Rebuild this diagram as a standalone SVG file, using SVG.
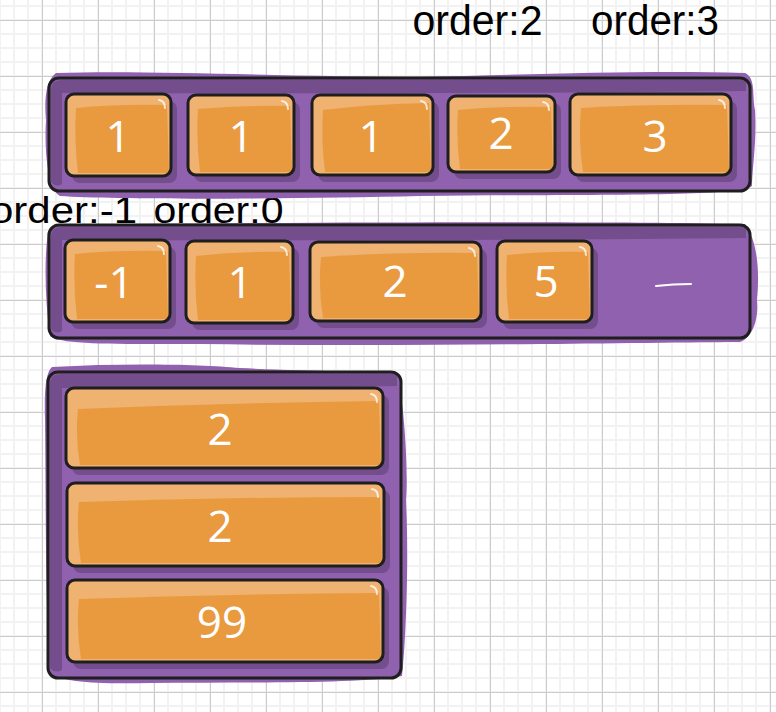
<svg xmlns="http://www.w3.org/2000/svg" width="776" height="712" viewBox="0 0 776 712">
<style>
.smear{fill:#9061ae}
.cfill{fill:#9061ae}
.dark{fill:#744e8c}
.sh{fill:#744e8c}
.hl{fill:#efb270}
.or{fill:#e99a3e}
.gl{fill:none;stroke:#ffffff;stroke-width:2;stroke-linecap:round;opacity:0.75}
.ol{fill:none;stroke:#1e1e1e;stroke-width:3;stroke-linejoin:round}
.col{fill:none;stroke:#1e1e1e;stroke-width:3}
.num{font-family:"Open Sans","Noto Sans",sans-serif;font-size:44px;fill:#ffffff;text-anchor:middle;font-weight:400}
.lbl{font-family:"Liberation Sans",Arial,sans-serif;fill:#000000}
</style>
<defs>
<pattern id="minor" patternUnits="userSpaceOnUse" x="-1" y="5" width="14" height="14">
<rect x="0" y="0" width="2" height="14" fill="#f2f2f2"/>
<rect x="0" y="0" width="14" height="2" fill="#f2f2f2"/>
</pattern>
<pattern id="major" patternUnits="userSpaceOnUse" x="42" y="20" width="56" height="56">
<path d="M0.5 0V56M0 0.5H56" stroke="#cccccc" stroke-width="1" fill="none"/>
</pattern>
</defs>
<rect width="776" height="712" fill="#ffffff"/>
<rect width="776" height="712" fill="url(#minor)"/>
<rect width="776" height="712" fill="url(#major)"/>

<g id="labels">
<text class="lbl" x="412.5" y="35" font-size="42" textLength="130" lengthAdjust="spacingAndGlyphs">order:2</text>
<text class="lbl" x="591" y="35" font-size="42" textLength="128" lengthAdjust="spacingAndGlyphs">order:3</text>
<text class="lbl" x="-10" y="223" font-size="36" textLength="147" lengthAdjust="spacingAndGlyphs">order:-1</text>
<text class="lbl" x="153.5" y="223" font-size="36" textLength="130" lengthAdjust="spacingAndGlyphs">order:0</text>
</g>

<g id="row1">
<path class="smear" d="M56 73C150 70 300 77 420 77C550 74 650 70 745 73C756 78 752 95 755 110C757 140 752 170 752 186C740 197 600 194 420 196C300 199 120 200 60 196C48 190 44 150 46 120C44 100 46 80 56 73Z"/>
<rect class="cfill" x="49" y="78" width="701" height="113" rx="10"/>
<path class="dark" d="M51 90Q51 80 61 80L746 80L746 91Q500 94 62 93L62 184Q56 188 51 182Z"/>
<rect class="col" x="49" y="78" width="701" height="113" rx="10"/>
</g>
<g id="r1a">
<rect class="sh" x="72" y="101" width="105" height="82" rx="8"/>
<rect class="hl" x="66" y="94" width="105" height="82" rx="8"/>
<path class="or" d="M76 108Q118 104 167 105L169 173L78 173Q74 140 76 108Z"/>
<path class="gl" d="M159 100Q165 101 165 108"/>
<rect class="ol" x="66" y="94" width="105" height="82" rx="8"/>
<text class="num" x="118" y="152">1</text>
</g>
<g id="r1b">
<rect class="sh" x="194" y="102" width="106" height="80" rx="8"/>
<rect class="hl" x="188" y="95" width="106" height="80" rx="8"/>
<path class="or" d="M198 109Q241 105 290 106L292 172L200 172Q196 140 198 109Z"/>
<path class="gl" d="M282 101Q288 102 288 109"/>
<rect class="ol" x="188" y="95" width="106" height="80" rx="8"/>
<text class="num" x="241" y="152">1</text>
</g>
<g id="r1c">
<rect class="sh" x="318" y="102" width="121" height="80" rx="8"/>
<rect class="hl" x="312" y="95" width="121" height="80" rx="8"/>
<path class="or" d="M323 110Q372 104 429 103L431 172L325 172Q321 140 323 110Z"/>
<path class="gl" d="M421 101Q427 102 427 109"/>
<rect class="ol" x="312" y="95" width="121" height="80" rx="8"/>
<text class="num" x="371" y="152">1</text>
</g>
<g id="r1d">
<rect class="sh" x="454" y="103" width="107" height="76" rx="8"/>
<rect class="hl" x="448" y="96" width="107" height="76" rx="8"/>
<path class="or" d="M458 110Q500 106 551 107L553 169L460 169Q456 140 458 110Z"/>
<path class="gl" d="M543 102Q549 103 549 110"/>
<rect class="ol" x="448" y="96" width="107" height="76" rx="8"/>
<text class="num" x="501" y="149">2</text>
</g>
<g id="r1e">
<rect class="sh" x="576" y="101" width="161" height="81" rx="8"/>
<rect class="hl" x="570" y="94" width="161" height="81" rx="8"/>
<path class="or" d="M581 108Q650 104 727 105L729 172L583 172Q578 140 581 108Z"/>
<path class="gl" d="M719 100Q725 101 725 108"/>
<rect class="ol" x="570" y="94" width="161" height="81" rx="8"/>
<text class="num" x="655" y="152">3</text>
</g>

<g id="row2">
<path class="smear" d="M55 225C300 222 600 221 745 224C757 240 760 270 757 300C759 320 752 338 740 342C600 343 400 347 200 344C120 344 60 345 50 336C45 300 44 260 48 232Z"/>
<rect class="cfill" x="49" y="225" width="701" height="113" rx="10"/>
<path class="dark" d="M51 237Q51 227 61 227L746 227L746 238Q500 241 62 240L62 331Q56 335 51 329Z"/>
<rect class="col" x="49" y="225" width="701" height="113" rx="10"/>
<path d="M656 286Q673 284 691 284" fill="none" stroke="#ffffff" stroke-width="2" stroke-linecap="round"/>
</g>
<g id="r2a">
<rect class="sh" x="71" y="247" width="105" height="82" rx="8"/>
<rect class="hl" x="65" y="240" width="105" height="82" rx="8"/>
<path class="or" d="M75 254Q117 250 166 251L168 319L77 319Q73 285 75 254Z"/>
<path class="gl" d="M158 246Q164 247 164 254"/>
<rect class="ol" x="65" y="240" width="105" height="82" rx="8"/>
<text class="num" x="114" y="298">-1</text>
</g>
<g id="r2b">
<rect class="sh" x="192" y="248" width="107" height="82" rx="8"/>
<rect class="hl" x="186" y="241" width="107" height="82" rx="8"/>
<path class="or" d="M196 256Q240 251 289 252L291 320L198 320Q194 288 196 256Z"/>
<path class="gl" d="M281 247Q287 248 287 255"/>
<rect class="ol" x="186" y="241" width="107" height="82" rx="8"/>
<text class="num" x="240" y="298">1</text>
</g>
<g id="r2c">
<rect class="sh" x="316" y="249" width="171" height="79" rx="8"/>
<rect class="hl" x="310" y="242" width="171" height="79" rx="8"/>
<path class="or" d="M321 257Q395 252 477 253L479 318L323 318Q318 288 321 257Z"/>
<path class="gl" d="M469 248Q475 249 475 256"/>
<rect class="ol" x="310" y="242" width="171" height="79" rx="8"/>
<text class="num" x="395" y="297">2</text>
</g>
<g id="r2d">
<rect class="sh" x="503" y="248" width="95" height="81" rx="8"/>
<rect class="hl" x="497" y="241" width="95" height="81" rx="8"/>
<path class="or" d="M507 255Q545 251 588 252L590 319L509 319Q505 288 507 255Z"/>
<path class="gl" d="M580 247Q586 248 586 255"/>
<rect class="ol" x="497" y="241" width="95" height="81" rx="8"/>
<text class="num" x="546" y="297">5</text>
</g>

<g id="col3">
<path class="smear" d="M52 367C120 363 200 364 240 368C300 371 380 371 398 375C406 420 408 480 406 500C409 560 406 640 402 676C360 684 250 682 150 683C100 684 60 683 50 672C45 600 46 500 45 420C44 390 46 372 52 367Z"/>
<rect class="cfill" x="48" y="372" width="353" height="306" rx="10"/>
<path class="dark" d="M50 384Q50 374 60 374L397 374L397 386Q250 388 62 388L62 670Q55 674 50 668Z"/>
<rect class="col" x="48" y="372" width="353" height="306" rx="10"/>
</g>
<g id="c3a">
<rect class="sh" x="72" y="395" width="317" height="80" rx="8"/>
<rect class="hl" x="66" y="388" width="317" height="80" rx="8"/>
<path class="or" d="M78 409Q230 403 379 401L381 465L80 465Q75 437 78 409Z"/>
<path class="gl" d="M371 394Q377 395 377 402"/>
<rect class="ol" x="66" y="388" width="317" height="80" rx="8"/>
<text class="num" x="220" y="445">2</text>
</g>
<g id="c3b">
<rect class="sh" x="73" y="490" width="317" height="83" rx="8"/>
<rect class="hl" x="67" y="483" width="317" height="83" rx="8"/>
<path class="or" d="M79 502Q230 497 380 497L382 563L81 563Q76 532 79 502Z"/>
<path class="gl" d="M372 489Q378 490 378 497"/>
<rect class="ol" x="67" y="483" width="317" height="83" rx="8"/>
<text class="num" x="220" y="542">2</text>
</g>
<g id="c3c">
<rect class="sh" x="73" y="587" width="316" height="82" rx="8"/>
<rect class="hl" x="67" y="580" width="316" height="82" rx="8"/>
<path class="or" d="M79 599Q230 594 379 593L381 659L81 659Q76 629 79 599Z"/>
<path class="gl" d="M371 586Q377 587 377 594"/>
<rect class="ol" x="67" y="580" width="316" height="82" rx="8"/>
<text class="num" x="222" y="638">99</text>
</g>
<g id="connectors"/>
</svg>
